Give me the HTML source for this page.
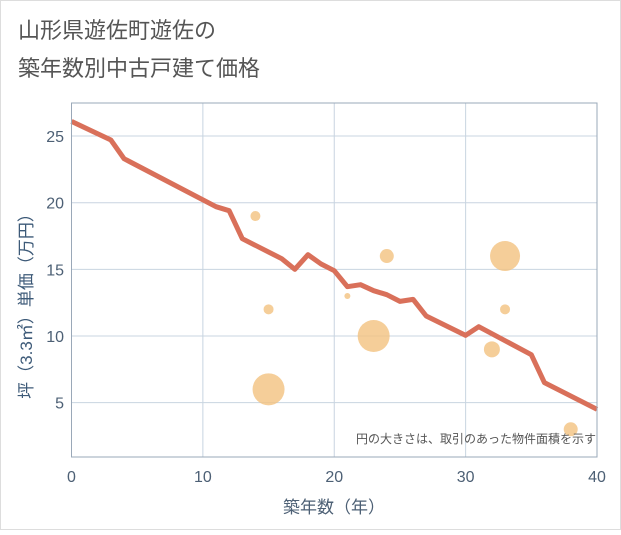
<!DOCTYPE html>
<html><head><meta charset="utf-8"><style>
body{margin:0;background:#fff;}
svg{font-family:"Liberation Sans","Noto Sans CJK JP",sans-serif;}
</style></head><body>
<svg width="621" height="530" viewBox="0 0 621 530">
<rect x="0.5" y="0.5" width="620" height="529" fill="#fff" stroke="#ddd"/>
<text x="18" y="38" font-size="22" fill="#555">山形県遊佐町遊佐の</text>
<text x="18" y="76" font-size="22" fill="#555">築年数別中古戸建て価格</text>
<g id="grid"></g>
<g id="bubbles"></g>
<path id="line" fill="none" stroke="#d9705a" stroke-width="5" stroke-linejoin="round"/>
<rect x="71.5" y="103" width="525.5" height="354" fill="none" stroke="#9aa8b8"/>
<g id="ticks"></g>
<text x="596" y="443" font-size="12" fill="#555" text-anchor="end">円の大きさは、取引のあった物件面積を示す</text>
<text x="334" y="513" font-size="17" fill="#4d6075" text-anchor="middle">築年数（年）</text>
<text transform="translate(32,302) rotate(-90)" font-size="17" fill="#3d5a78" text-anchor="middle">坪（3.3㎡）単価（万円）</text>
</svg>
<script>
const xTicks=[0,10,20,30,40];
const yTicks=[5,10,15,20,25];
const lineX=[0,3,4,11,12,13,16,17,18,19,20,21,22,23,24,25,26,27,30,31,35,36,40];
const lineY=[26.1,24.7,23.3,19.7,19.4,17.3,15.8,15.0,16.1,15.4,14.9,13.7,13.85,13.4,13.1,12.6,12.75,11.5,10.05,10.7,8.6,6.5,4.5];
const bubX=[14,15,15,21,23,24,32,33,33,38];
const bubY=[19,12,6,13,10,16,9,16,12,3];
const bubR=[5,5,16,3,16,7,8,15,5,7];
const L=71.5,R=597,T=103,B=457;
const xs=v=>L+(R-L)*v/40;
const ys=v=>469.3-13.33*v;
const NS='http://www.w3.org/2000/svg';
const grid=document.getElementById('grid'),ticks=document.getElementById('ticks');
xTicks.forEach(t=>{
 const l=document.createElementNS(NS,'line');
 l.setAttribute('x1',xs(t));l.setAttribute('x2',xs(t));l.setAttribute('y1',T);l.setAttribute('y2',B);
 l.setAttribute('stroke','#c8d4e0');
 
 
 grid.appendChild(l);
 const tx=document.createElementNS(NS,'text');
 tx.setAttribute('x',xs(t));tx.setAttribute('y',482);tx.setAttribute('text-anchor','middle');
 tx.setAttribute('font-size','16');tx.setAttribute('fill','#4d6075');tx.textContent=t;
 
 
 ticks.appendChild(tx);
});
yTicks.forEach(t=>{
 const l=document.createElementNS(NS,'line');
 l.setAttribute('x1',L);l.setAttribute('x2',R);l.setAttribute('y1',ys(t));l.setAttribute('y2',ys(t));
 l.setAttribute('stroke','#c8d4e0');
 
 
 grid.appendChild(l);
 const tx=document.createElementNS(NS,'text');
 tx.setAttribute('x',64);tx.setAttribute('y',ys(t)+6);tx.setAttribute('text-anchor','end');
 tx.setAttribute('font-size','16');tx.setAttribute('fill','#4d6075');tx.textContent=t;
 
 
 ticks.appendChild(tx);
});
const bg=document.getElementById('bubbles');
bubX.forEach((x,i)=>{
 const c=document.createElementNS(NS,'circle');
 c.setAttribute('cx',xs(x));c.setAttribute('cy',ys(bubY[i]));c.setAttribute('r',bubR[i]);
 c.setAttribute('fill','#f3c27f');c.setAttribute('fill-opacity','0.8');
 
 
 bg.appendChild(c);
});
document.getElementById('line').setAttribute('d',lineX.map((x,i)=>(i?'L':'M')+xs(x)+' '+ys(lineY[i])).join(' '));
</script>
</body></html>
